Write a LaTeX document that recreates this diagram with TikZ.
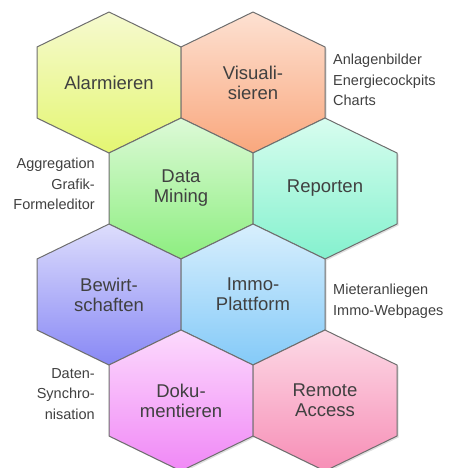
\documentclass[tikz,border=0pt]{standalone}
\usepackage{fontspec}
\setmainfont{Liberation Sans}
\usetikzlibrary{shadows}

\definecolor{hexline}{HTML}{6E6E6E}
\definecolor{txtgray}{HTML}{404040}
\definecolor{alarmtop}{HTML}{F6FAD0}
\definecolor{alarmbot}{HTML}{E4F672}
\definecolor{viztop}{HTML}{FDE1D2}
\definecolor{vizbot}{HTML}{F9A77D}
\definecolor{miningtop}{HTML}{DDFAD7}
\definecolor{miningbot}{HTML}{8DEE80}
\definecolor{reporttop}{HTML}{D8FDEF}
\definecolor{reportbot}{HTML}{84F1CE}
\definecolor{bewirttop}{HTML}{DDDDFC}
\definecolor{bewirtbot}{HTML}{8888F5}
\definecolor{immotop}{HTML}{D8EFFD}
\definecolor{immobot}{HTML}{84CAF8}
\definecolor{dokutop}{HTML}{FCDAFD}
\definecolor{dokubot}{HTML}{F088F6}
\definecolor{remotetop}{HTML}{FCDAE6}
\definecolor{remotebot}{HTML}{F78EB6}

\tikzset{
	hexcell/.style={draw=hexline,line width=1pt,line join=round,
		drop shadow={shadow xshift=1.5pt,shadow yshift=-1.5pt,opacity=0.25}},
	hexlabel/.style={align=center,inner sep=0pt,text=txtgray,font=\fontsize{18.5}{20}\selectfont},
	sidenote/.style={inner sep=0pt,text=txtgray,font=\fontsize{14.5}{20.5}\selectfont}
}

\newcommand{\honeycell}[5]{%
	\path[hexcell,top color=#3,bottom color=#4] (#2) ++(0,-70.5) -- ++(72,35) -- ++(0,71)
		-- ++(-72,35) -- ++(-72,-35) -- ++(0,-71) -- cycle;
	\node[hexlabel] (#1) at (#2) {#5};}

\begin{document}
\begin{tikzpicture}[x=1pt,y=-1pt]
		\useasboundingbox (0,0) rectangle (456,468);
		\honeycell{alarm}{109,82.5}{alarmtop}{alarmbot}{Alarmieren}
		\honeycell{viz}{253,82.5}{viztop}{vizbot}{Visuali-\\sieren}
		\honeycell{mining}{181,188.5}{miningtop}{miningbot}{Data\\Mining}
		\honeycell{report}{325,188.5}{reporttop}{reportbot}{Reporten}
		\honeycell{bewirt}{109,294.5}{bewirttop}{bewirtbot}{Bewirt-\\schaften}
		\honeycell{immo}{253,294.5}{immotop}{immobot}{Immo-\\Plattform}
		\honeycell{doku}{181,400.5}{dokutop}{dokubot}{Doku-\\mentieren}
		\honeycell{remote}{325,400.5}{remotetop}{remotebot}{Remote\\Access}
		\node[sidenote,anchor=west,align=left] (viznote) at (333,80) {Anlagenbilder\\Energiecockpits\\Charts};
		\node[sidenote,anchor=east,align=right] (miningnote) at (95,184) {Aggregation\\Grafik-\\Formeleditor};
		\node[sidenote,anchor=west,align=left] (immonote) at (333,301) {Mieteranliegen\\Immo-Webpages};
		\node[sidenote,anchor=east,align=right] (dokunote) at (95,394) {Daten-\\Synchro-\\nisation};
\end{tikzpicture}
\end{document}
